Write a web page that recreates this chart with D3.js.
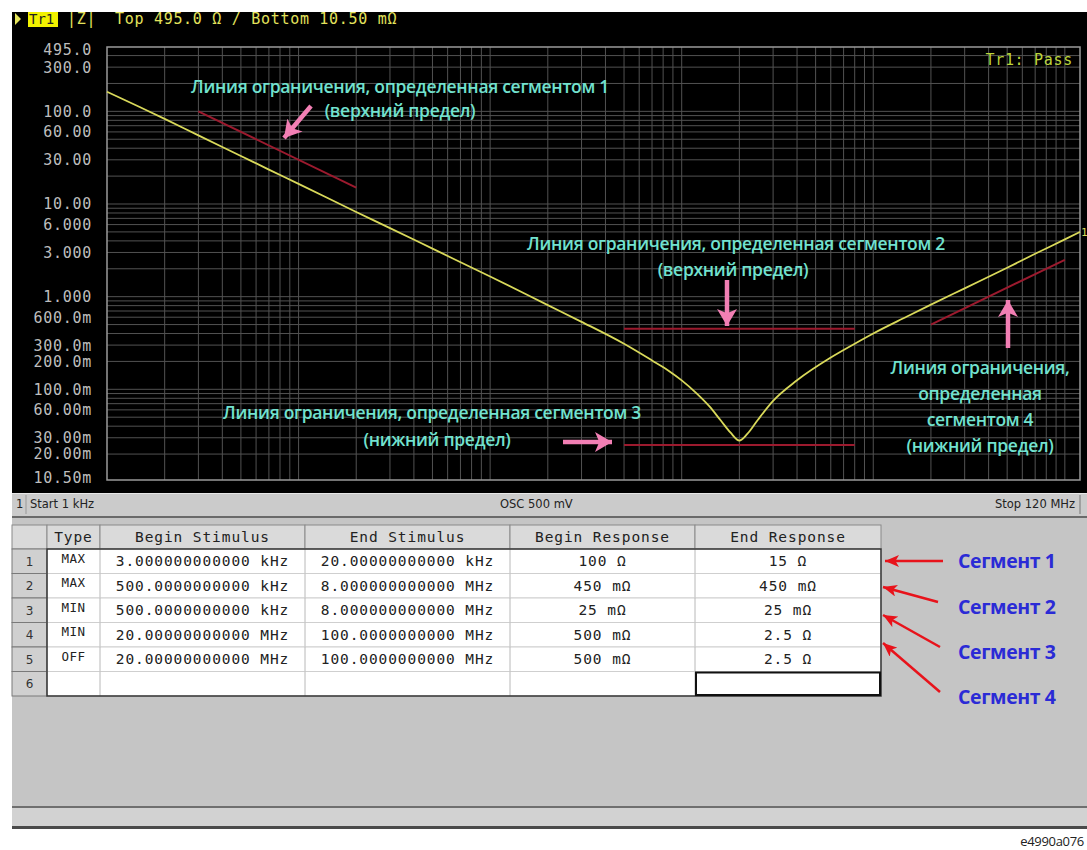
<!DOCTYPE html>
<html>
<head>
<meta charset="utf-8">
<script src="https://cdn.jsdelivr.net/npm/d3@7"></script>
<style>
  body { margin: 0; background: #fff; }
  svg { display: block; }
</style>
</head>
<body>
<svg id="chart"></svg>
<script>
// |Z| trace (Hz, ohm)
const traceFreq = [1e3, 1.5e3, 2e3, 3e3, 5e3, 7e3, 1e4, 2e4, 3e4, 5e4, 1e5, 2e5, 3e5, 5e5, 7e5, 8.5e5,
  1e6, 1.2e6, 1.4e6, 1.6e6, 1.8e6, 2.0e6, 2.2e6, 2.5e6, 3e6, 4e6, 6e6, 8e6, 1e7, 1.5e7, 2e7, 3e7, 5e7, 7e7, 1e8, 1.2e8];
const traceZ = [163, 110, 83, 55, 33, 23.5, 16.5, 8.2, 5.5, 3.3, 1.65, 0.81, 0.535, 0.31, 0.205, 0.16,
  0.125, 0.09, 0.065, 0.046, 0.034, 0.028, 0.033, 0.047, 0.075, 0.125, 0.22, 0.31, 0.4, 0.61, 0.82, 1.23, 2.05, 2.9, 4.15, 5.0];

// y axis labels
const yTicks = [495, 300, 100, 60, 30, 10, 6, 3, 1, 0.6, 0.3, 0.2, 0.1, 0.06, 0.03, 0.02, 0.0105];
const yTickLabels = ["495.0", "300.0", "100.0", "60.00", "30.00", "10.00", "6.000", "3.000", "1.000",
  "600.0m", "300.0m", "200.0m", "100.0m", "60.00m", "30.00m", "20.00m", "10.50m"];

// limit line table
const segTypes = ["MAX", "MAX", "MIN", "MIN", "OFF"];
const segBeginStim = [3e3, 500e3, 500e3, 20e6, 20e6];
const segEndStim = [20e3, 8e6, 8e6, 100e6, 100e6];
const segBeginResp = [100, 0.45, 0.025, 0.5, 0.5];
const segEndResp = [15, 0.45, 0.025, 2.5, 2.5];
const beginStimText = ["3.000000000000 kHz", "500.0000000000 kHz", "500.0000000000 kHz", "20.00000000000 MHz", "20.00000000000 MHz"];
const endStimText = ["20.00000000000 kHz", "8.000000000000 MHz", "8.000000000000 MHz", "100.0000000000 MHz", "100.0000000000 MHz"];
const beginRespText = ["100 Ω", "450 mΩ", "25 mΩ", "500 mΩ", "500 mΩ"];
const endRespText = ["15 Ω", "450 mΩ", "25 mΩ", "2.5 Ω", "2.5 Ω"];
const tableHeaders = ["", "Type", "Begin Stimulus", "End Stimulus", "Begin Response", "End Response"];
const segmentNames = ["Сегмент 1", "Сегмент 2", "Сегмент 3", "Сегмент 4"];

const width = 1087;
const height = 850;
const mono = "'DejaVu Sans Mono', monospace";
const sans = "'Open Sans', 'Noto Sans', sans-serif";

const svg = d3.select("#chart").attr("width", width).attr("height", height);

const defs = svg.append("defs");
function arrowMarker(id, color, w, h) {
  defs.append("marker")
    .attr("id", id)
    .attr("markerUnits", "userSpaceOnUse")
    .attr("viewBox", `0 0 ${w} ${h}`)
    .attr("refX", w).attr("refY", h / 2)
    .attr("markerWidth", w).attr("markerHeight", h)
    .attr("orient", "auto")
    .append("path")
    .attr("d", `M0,0L${w},${h / 2}L0,${h}L${w * 0.25},${h / 2}Z`)
    .attr("fill", color);
}
arrowMarker("pinkHead", "#f27fb4", 17, 20);
arrowMarker("redHead", "#e8131b", 14, 12);

// black instrument screen
svg.append("rect").attr("x", 12).attr("y", 12).attr("width", width - 12).attr("height", 481).attr("fill", "#000");

const x = d3.scaleLog().domain([1e3, 120e6]).range([107, 1080]);
const y = d3.scaleLog().domain([0.0105, 495]).range([480, 47]);

// grid lines, 1..9 per decade
const grid = svg.append("g");
const xGrid = [];
for (let e = 3; e <= 8; e++) for (let m = 1; m <= 9; m++) {
  const v = m * Math.pow(10, e);
  if (v > 1e3 && v < 120e6) xGrid.push(v);
}
const yGrid = [];
for (let e = -2; e <= 2; e++) for (let m = 1; m <= 9; m++) {
  const v = m * Math.pow(10, e);
  if (v > 0.0105 && v < 495) yGrid.push(v);
}
grid.selectAll("line.vx").data(xGrid).join("line")
  .attr("x1", d => x(d)).attr("x2", d => x(d))
  .attr("y1", y.range()[1]).attr("y2", y.range()[0])
  .attr("stroke", "#525252").attr("stroke-width", 1);
grid.selectAll("line.hy").data(yGrid).join("line")
  .attr("x1", x.range()[0]).attr("x2", x.range()[1])
  .attr("y1", d => y(d)).attr("y2", d => y(d))
  .attr("stroke", "#525252").attr("stroke-width", 1);
svg.append("rect")
  .attr("x", x.range()[0]).attr("y", y.range()[1])
  .attr("width", x.range()[1] - x.range()[0]).attr("height", y.range()[0] - y.range()[1])
  .attr("fill", "none").attr("stroke", "#9a9a9a").attr("stroke-width", 1.5);

// y labels
svg.append("g").selectAll("text").data(yTicks).join("text")
  .attr("x", 92)
  .attr("y", d => Math.max(50, Math.min(478, y(d))))
  .attr("dy", "0.36em")
  .attr("text-anchor", "end")
  .attr("font-family", mono).attr("font-size", 15).attr("letter-spacing", 0.7)
  .attr("fill", "#bdbdbd")
  .text((d, i) => yTickLabels[i]);

// header line
svg.append("path").attr("d", "M15,13L21,19L15,25Z").attr("fill", "#e6e65a");
svg.append("rect").attr("x", 28).attr("y", 12).attr("width", 30).attr("height", 15).attr("fill", "#f2f200");
svg.append("text").attr("x", 29).attr("y", 24)
  .attr("font-family", mono).attr("font-size", 14).attr("fill", "#222")
  .text("Tr1");
svg.append("text").attr("x", 67).attr("y", 24)
  .attr("font-family", mono).attr("font-size", 15).attr("letter-spacing", 0.7).attr("fill", "#e3e35c")
  .text("|Z|");
svg.append("text").attr("x", 115).attr("y", 24)
  .attr("font-family", mono).attr("font-size", 15).attr("letter-spacing", 0.7).attr("fill", "#e3e35c")
  .text("Top 495.0 Ω / Bottom 10.50 mΩ");
svg.append("text").attr("x", 1073).attr("y", 65).attr("text-anchor", "end")
  .attr("font-family", mono).attr("font-size", 15).attr("letter-spacing", 0.7).attr("fill", "#bcd43c")
  .text("Tr1: Pass");

// limit lines
const segIdx = d3.range(segTypes.length).filter(i => segTypes[i] !== "OFF");
svg.append("g").selectAll("line").data(segIdx).join("line")
  .attr("x1", i => x(segBeginStim[i])).attr("x2", i => x(segEndStim[i]))
  .attr("y1", i => y(segBeginResp[i])).attr("y2", i => y(segEndResp[i]))
  .attr("stroke", "#9c1a2e").attr("stroke-width", 2);

// trace
const traceLine = d3.line()
  .x((d, i) => x(traceFreq[i]))
  .y(d => y(d))
  .curve(d3.curveMonotoneX);
svg.append("path").datum(traceZ)
  .attr("d", traceLine)
  .attr("fill", "none").attr("stroke", "#d9d95a").attr("stroke-width", 1.8);
svg.append("text").attr("x", 1081).attr("y", y(traceZ[traceZ.length - 1]) + 4)
  .attr("font-family", mono).attr("font-size", 11).attr("fill", "#d9d95a").text("1");

// annotations
const cyan = "#72e2cf";
const notes = [
  { x: 400, y: 87, t: "Линия ограничения, определенная сегментом 1" },
  { x: 400, y: 111, t: "(верхний предел)" },
  { x: 736, y: 244, t: "Линия ограничения, определенная сегментом 2" },
  { x: 733, y: 270, t: "(верхний предел)" },
  { x: 432, y: 413, t: "Линия ограничения, определенная сегментом 3" },
  { x: 437, y: 440, t: "(нижний предел)" },
  { x: 980, y: 368, t: "Линия ограничения," },
  { x: 980, y: 394, t: "определенная" },
  { x: 980, y: 420, t: "сегментом 4" },
  { x: 980, y: 446, t: "(нижний предел)" }
];
svg.append("g").selectAll("text").data(notes).join("text")
  .attr("x", d => d.x).attr("y", d => d.y).attr("dy", "0.35em")
  .attr("text-anchor", "middle")
  .attr("font-family", sans).attr("font-size", 17.5).attr("font-weight", 600)
  .attr("letter-spacing", -0.3).attr("fill", cyan)
  .text(d => d.t);

const pinkArrows = [
  [311, 106, 284, 138],
  [727, 280, 727, 326],
  [563, 442, 612, 442],
  [1008, 348, 1008, 300]
];
svg.append("g").selectAll("line").data(pinkArrows).join("line")
  .attr("x1", d => d[0]).attr("y1", d => d[1]).attr("x2", d => d[2]).attr("y2", d => d[3])
  .attr("stroke", "#f27fb4").attr("stroke-width", 4.5)
  .attr("marker-end", "url(#pinkHead)");

// status bar
svg.append("rect").attr("x", 12).attr("y", 493).attr("width", width - 12).attr("height", 23).attr("fill", "#cbcbcb");
svg.append("line").attr("x1", 12).attr("x2", width).attr("y1", 493.5).attr("y2", 493.5).attr("stroke", "#e8e8e8");
svg.append("rect").attr("x", 12).attr("y", 516).attr("width", width - 12).attr("height", 2).attr("fill", "#6a6a6a");
const statusFont = "'DejaVu Sans', sans-serif";
svg.append("text").attr("x", 16).attr("y", 508).attr("font-family", statusFont).attr("font-size", 11.5).attr("fill", "#222").text("1");
svg.append("line").attr("x1", 26).attr("x2", 26).attr("y1", 495).attr("y2", 514).attr("stroke", "#999");
svg.append("text").attr("x", 30).attr("y", 508).attr("font-family", statusFont).attr("font-size", 11.5).attr("fill", "#222").text("Start 1 kHz");
svg.append("text").attr("x", 500).attr("y", 508).attr("font-family", statusFont).attr("font-size", 11.5).attr("fill", "#222").text("OSC 500 mV");
svg.append("text").attr("x", 1075).attr("y", 508).attr("text-anchor", "end").attr("font-family", statusFont).attr("font-size", 11.5).attr("fill", "#222").text("Stop 120 MHz");
svg.append("line").attr("x1", 1080).attr("x2", 1080).attr("y1", 495).attr("y2", 514).attr("stroke", "#777");

// lower panel
svg.append("rect").attr("x", 12).attr("y", 518).attr("width", width - 12).attr("height", 288).attr("fill", "#c5c5c5");
svg.append("rect").attr("x", 12).attr("y", 806).attr("width", width - 12).attr("height", 2).attr("fill", "#6f6f6f");
svg.append("rect").attr("x", 12).attr("y", 808).attr("width", width - 12).attr("height", 19).attr("fill", "#d2d2d2");
svg.append("rect").attr("x", 12).attr("y", 826).attr("width", width - 12).attr("height", 3).attr("fill", "#4a4a4a");

// table
const colX = [12, 47, 100, 305, 510, 695, 881];
const headTop = 525, headH = 24, rowH = 24.5;
const table = svg.append("g");
table.selectAll("rect.head").data(tableHeaders).join("rect")
  .attr("x", (d, i) => colX[i]).attr("y", headTop)
  .attr("width", (d, i) => colX[i + 1] - colX[i]).attr("height", headH)
  .attr("fill", "#dadada").attr("stroke", "#8a8a8a").attr("stroke-width", 1);
table.selectAll("text.head").data(tableHeaders).join("text")
  .attr("x", (d, i) => (colX[i] + colX[i + 1]) / 2).attr("y", headTop + headH / 2).attr("dy", "0.36em")
  .attr("text-anchor", "middle")
  .attr("font-family", mono).attr("font-size", 14.5).attr("letter-spacing", 0.9).attr("fill", "#222")
  .text(d => d);

const rowNums = d3.range(1, 7);
const rows = table.selectAll("g.row").data(rowNums).join("g")
  .attr("transform", d => `translate(0,${headTop + headH + (d - 1) * rowH})`);
rows.append("rect")
  .attr("x", colX[0]).attr("width", colX[1] - colX[0]).attr("height", rowH)
  .attr("fill", "#d0d0d0").attr("stroke", "#7a7a7a");
rows.append("text")
  .attr("x", (colX[0] + colX[1]) / 2).attr("y", rowH / 2).attr("dy", "0.36em")
  .attr("text-anchor", "middle").attr("font-family", statusFont).attr("font-size", 12).attr("fill", "#333")
  .text(d => d);
rows.append("rect")
  .attr("x", colX[1]).attr("width", colX[6] - colX[1]).attr("height", rowH)
  .attr("fill", "#fff").attr("stroke", "#cfcfcf");
rows.each(function(r) {
  const g = d3.select(this);
  for (let c = 2; c < 6; c++) {
    g.append("line").attr("x1", colX[c]).attr("x2", colX[c]).attr("y1", 0).attr("y2", rowH).attr("stroke", "#b8b8b8");
  }
  if (r > segTypes.length) return;
  const i = r - 1;
  const cells = [segTypes[i], beginStimText[i], endStimText[i], beginRespText[i], endRespText[i]];
  cells.forEach((t, k) => {
    g.append("text")
      .attr("x", (colX[k + 1] + colX[k + 2]) / 2).attr("y", rowH / 2).attr("dy", k === 0 ? "0.1em" : "0.36em")
      .attr("text-anchor", "middle")
      .attr("font-family", mono).attr("font-size", k === 0 ? 12.5 : 14.5)
      .attr("letter-spacing", k === 0 ? 0.5 : 0.9).attr("fill", "#222")
      .text(t);
  });
});
table.append("rect")
  .attr("x", colX[1]).attr("y", headTop + headH)
  .attr("width", colX[6] - colX[1]).attr("height", rowH * 6)
  .attr("fill", "none").attr("stroke", "#333").attr("stroke-width", 1.5);
table.append("rect")
  .attr("x", colX[5] + 1).attr("y", headTop + headH + rowH * 5 + 1)
  .attr("width", colX[6] - colX[5] - 2).attr("height", rowH - 2)
  .attr("fill", "none").attr("stroke", "#111").attr("stroke-width", 2);

// segment callouts
svg.append("g").selectAll("text").data(segmentNames).join("text")
  .attr("x", 958).attr("y", (d, i) => [561, 607, 652, 697][i]).attr("dy", "0.36em")
  .attr("font-family", sans).attr("font-weight", 700).attr("font-size", 19.5)
  .attr("letter-spacing", -0.4).attr("fill", "#2b2bd6")
  .text(d => d);
const redArrows = [
  [943, 561, 885, 561],
  [938, 602, 883, 587],
  [940, 647, 883, 615],
  [940, 692, 883, 643]
];
svg.append("g").selectAll("line").data(redArrows).join("line")
  .attr("x1", d => d[0]).attr("y1", d => d[1]).attr("x2", d => d[2]).attr("y2", d => d[3])
  .attr("stroke", "#e8131b").attr("stroke-width", 2.5)
  .attr("marker-end", "url(#redHead)");

svg.append("text").attr("x", 1084).attr("y", 846).attr("text-anchor", "end")
  .attr("font-family", sans).attr("font-size", 13).attr("letter-spacing", -0.3).attr("fill", "#222")
  .text("e4990a076");
</script>
</body>
</html>
